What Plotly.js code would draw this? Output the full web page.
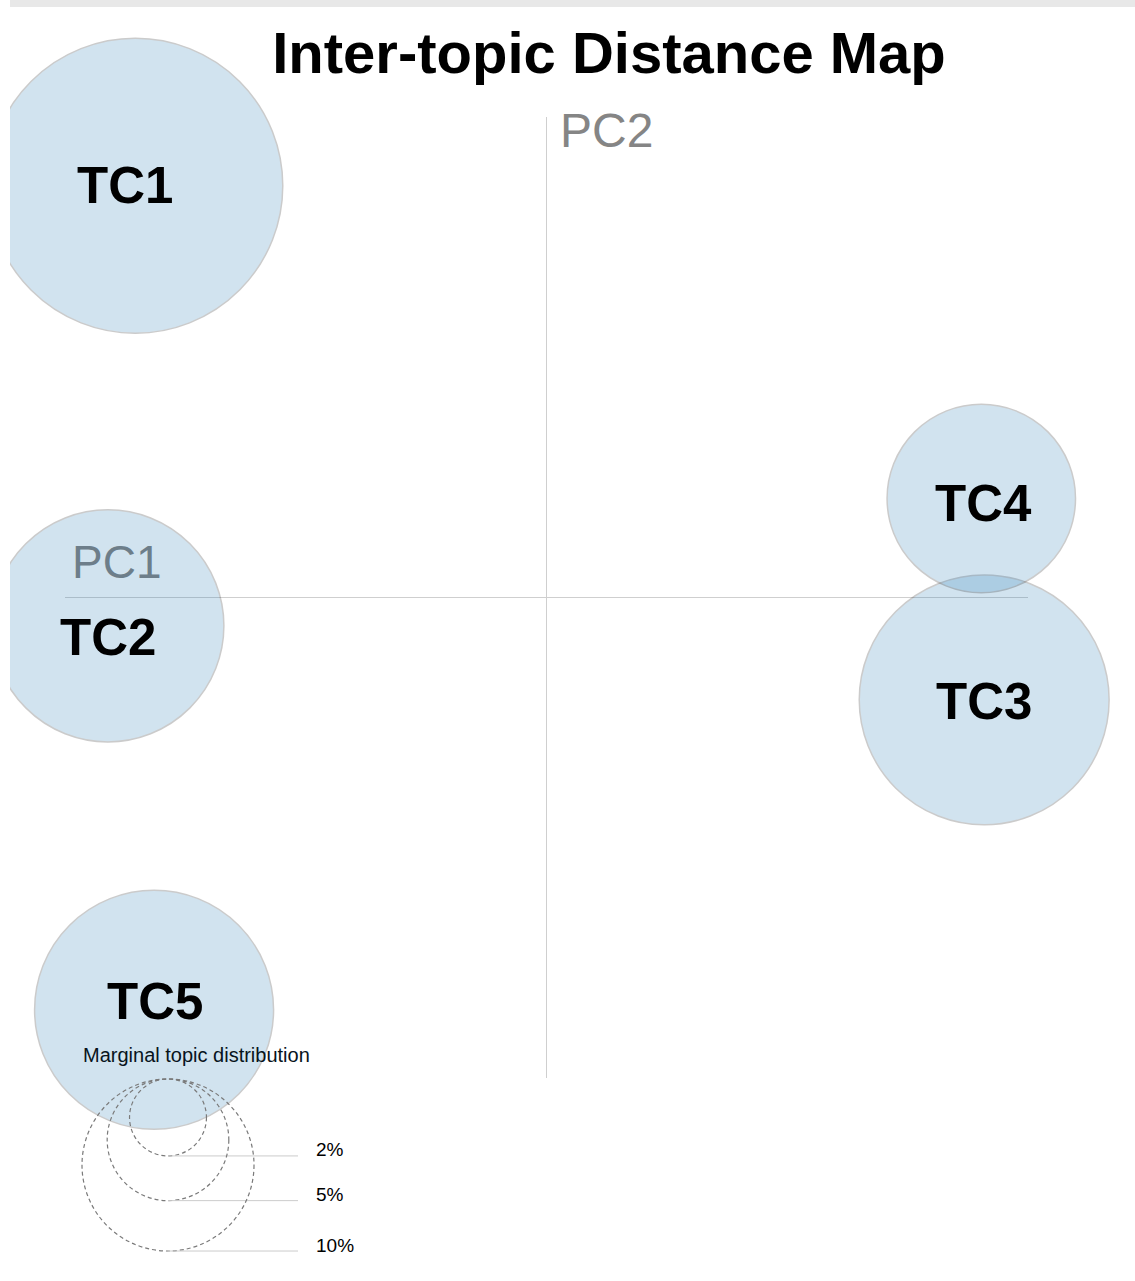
<!DOCTYPE html>
<html>
<head>
<meta charset="utf-8">
<script src="https://cdn.plot.ly/plotly-3.0.1.min.js"></script>
<style>html,body{margin:0;padding:0;background:#fff;}#chart{width:1135px;height:1281px;}</style>
</head>
<body>
<div id="chart"></div>
<script>
// ---- data ----
const topicLabels = ['TC1', 'TC2', 'TC3', 'TC4', 'TC5'];
const pc1 = [-0.854, -0.911, 0.909, 0.903, -0.815];
const pc2 = [0.857, -0.059, -0.213, 0.206, -0.858];
const marginalPct = [29.4, 18.2, 21.1, 12.0, 19.3];
const legendPct = [2, 5, 10];
const legendLabels = ['2%', '5%', '10%'];

// ---- layout geometry / style ----
const W = 1135, H = 1281;
const M = {l: 65, r: 107, t: 117, b: 203};
const PW = W - M.l - M.r, PH = H - M.t - M.b;
const px2x = p => (p - M.l) / PW;
const px2y = p => (H - M.b - p) / PH;
const SIZEREF = 2 / 2959;             // plotly area mode: diameter = sqrt(2 * pct / sizeref)
const radius = p => 0.5 * Math.sqrt(2 * p / SIZEREF);
const FONT = 'Liberation Sans, Arial, Helvetica, sans-serif';
const labelShift = [[-10, 0], [0, -12], [0, -2], [2, -5], [1, 8]];

const circles = {
  type: 'scatter', mode: 'markers',
  x: pc1, y: pc2,
  cliponaxis: false, hoverinfo: 'skip', showlegend: false,
  marker: {
    size: marginalPct, sizemode: 'area', sizeref: SIZEREF,
    color: '#1f77b4', opacity: 0.2,
    line: {color: '#000000', width: 1.5}
  }
};

const annotations = [];
topicLabels.forEach((t, i) => {
  annotations.push({
    x: pc1[i], y: pc2[i], xref: 'x', yref: 'y', text: '<b>' + t + '</b>',
    showarrow: false, xanchor: 'center', yanchor: 'middle',
    xshift: labelShift[i][0], yshift: labelShift[i][1],
    font: {family: FONT, size: 51, color: '#000'}
  });
});
annotations.push({
  x: 0, xref: 'x', xanchor: 'left', xshift: 11,
  y: px2y(130), yref: 'paper', yanchor: 'middle',
  text: 'PC2', showarrow: false, font: {family: FONT, size: 48, color: '#858585'}
});
annotations.push({
  x: px2x(72), xref: 'paper', xanchor: 'left', xshift: -2,
  y: px2y(562), yref: 'paper', yanchor: 'middle',
  text: 'PC1', showarrow: false, font: {family: FONT, size: 46, color: '#6d7e8a'}
});
annotations.push({
  x: px2x(83), xref: 'paper', xanchor: 'left', xshift: -2,
  y: px2y(1055), yref: 'paper', yanchor: 'middle',
  text: 'Marginal topic distribution', showarrow: false,
  font: {family: FONT, size: 20, color: '#08141c'}
});

const shapes = [];
// top gray strip and left white strip
shapes.push({type: 'rect', xref: 'paper', yref: 'paper', layer: 'above',
  x0: px2x(10), x1: px2x(W), y0: px2y(7), y1: px2y(0),
  fillcolor: '#e8e8e8', line: {width: 0}});
shapes.push({type: 'rect', xref: 'paper', yref: 'paper', layer: 'above',
  x0: px2x(0), x1: px2x(10), y0: px2y(H), y1: px2y(7),
  fillcolor: '#ffffff', line: {width: 0}});

// legend: nested dashed circles sharing a top point
const legCx = 168, legTop = 1079, legLineEnd = 298, legTextX = 316;
legendPct.forEach((p, i) => {
  const r = radius(p);
  const bottom = legTop + 2 * r;
  shapes.push({type: 'circle', xref: 'paper', yref: 'paper', layer: 'above',
    x0: px2x(legCx - r), x1: px2x(legCx + r), y0: px2y(bottom), y1: px2y(legTop),
    line: {color: '#7a7a7a', width: 1.2, dash: '4px,3px'}, fillcolor: 'rgba(0,0,0,0)'});
  shapes.push({type: 'line', xref: 'paper', yref: 'paper', layer: 'above',
    x0: px2x(legCx), x1: px2x(legLineEnd), y0: px2y(bottom), y1: px2y(bottom),
    line: {color: '#cccccc', width: 1}});
  annotations.push({x: px2x(legTextX), xref: 'paper', xanchor: 'left', xshift: -2,
    y: px2y(bottom), yref: 'paper', yanchor: 'middle', yshift: 6,
    text: legendLabels[i], showarrow: false,
    font: {family: FONT, size: 19, color: '#000'}});
});

const axisBase = {
  range: [-1, 1], showgrid: false, showticklabels: false, ticks: '',
  showline: false, zeroline: true, zerolinecolor: '#cfcfcf', zerolinewidth: 1,
  fixedrange: true
};

const layout = {
  width: W, height: H, margin: M,
  paper_bgcolor: '#ffffff', plot_bgcolor: '#ffffff',
  title: {text: '<b>Inter-topic Distance Map</b>',
    font: {family: FONT, size: 58, color: '#000'},
    x: 609 / W, xanchor: 'center', xref: 'container',
    y: 1 - 53 / H, yanchor: 'middle', yref: 'container'},
  xaxis: Object.assign({}, axisBase),
  yaxis: Object.assign({}, axisBase),
  showlegend: false, hovermode: false,
  shapes: shapes, annotations: annotations
};

Plotly.newPlot('chart', [circles], layout, {displayModeBar: false, staticPlot: true});
</script>
</body>
</html>
